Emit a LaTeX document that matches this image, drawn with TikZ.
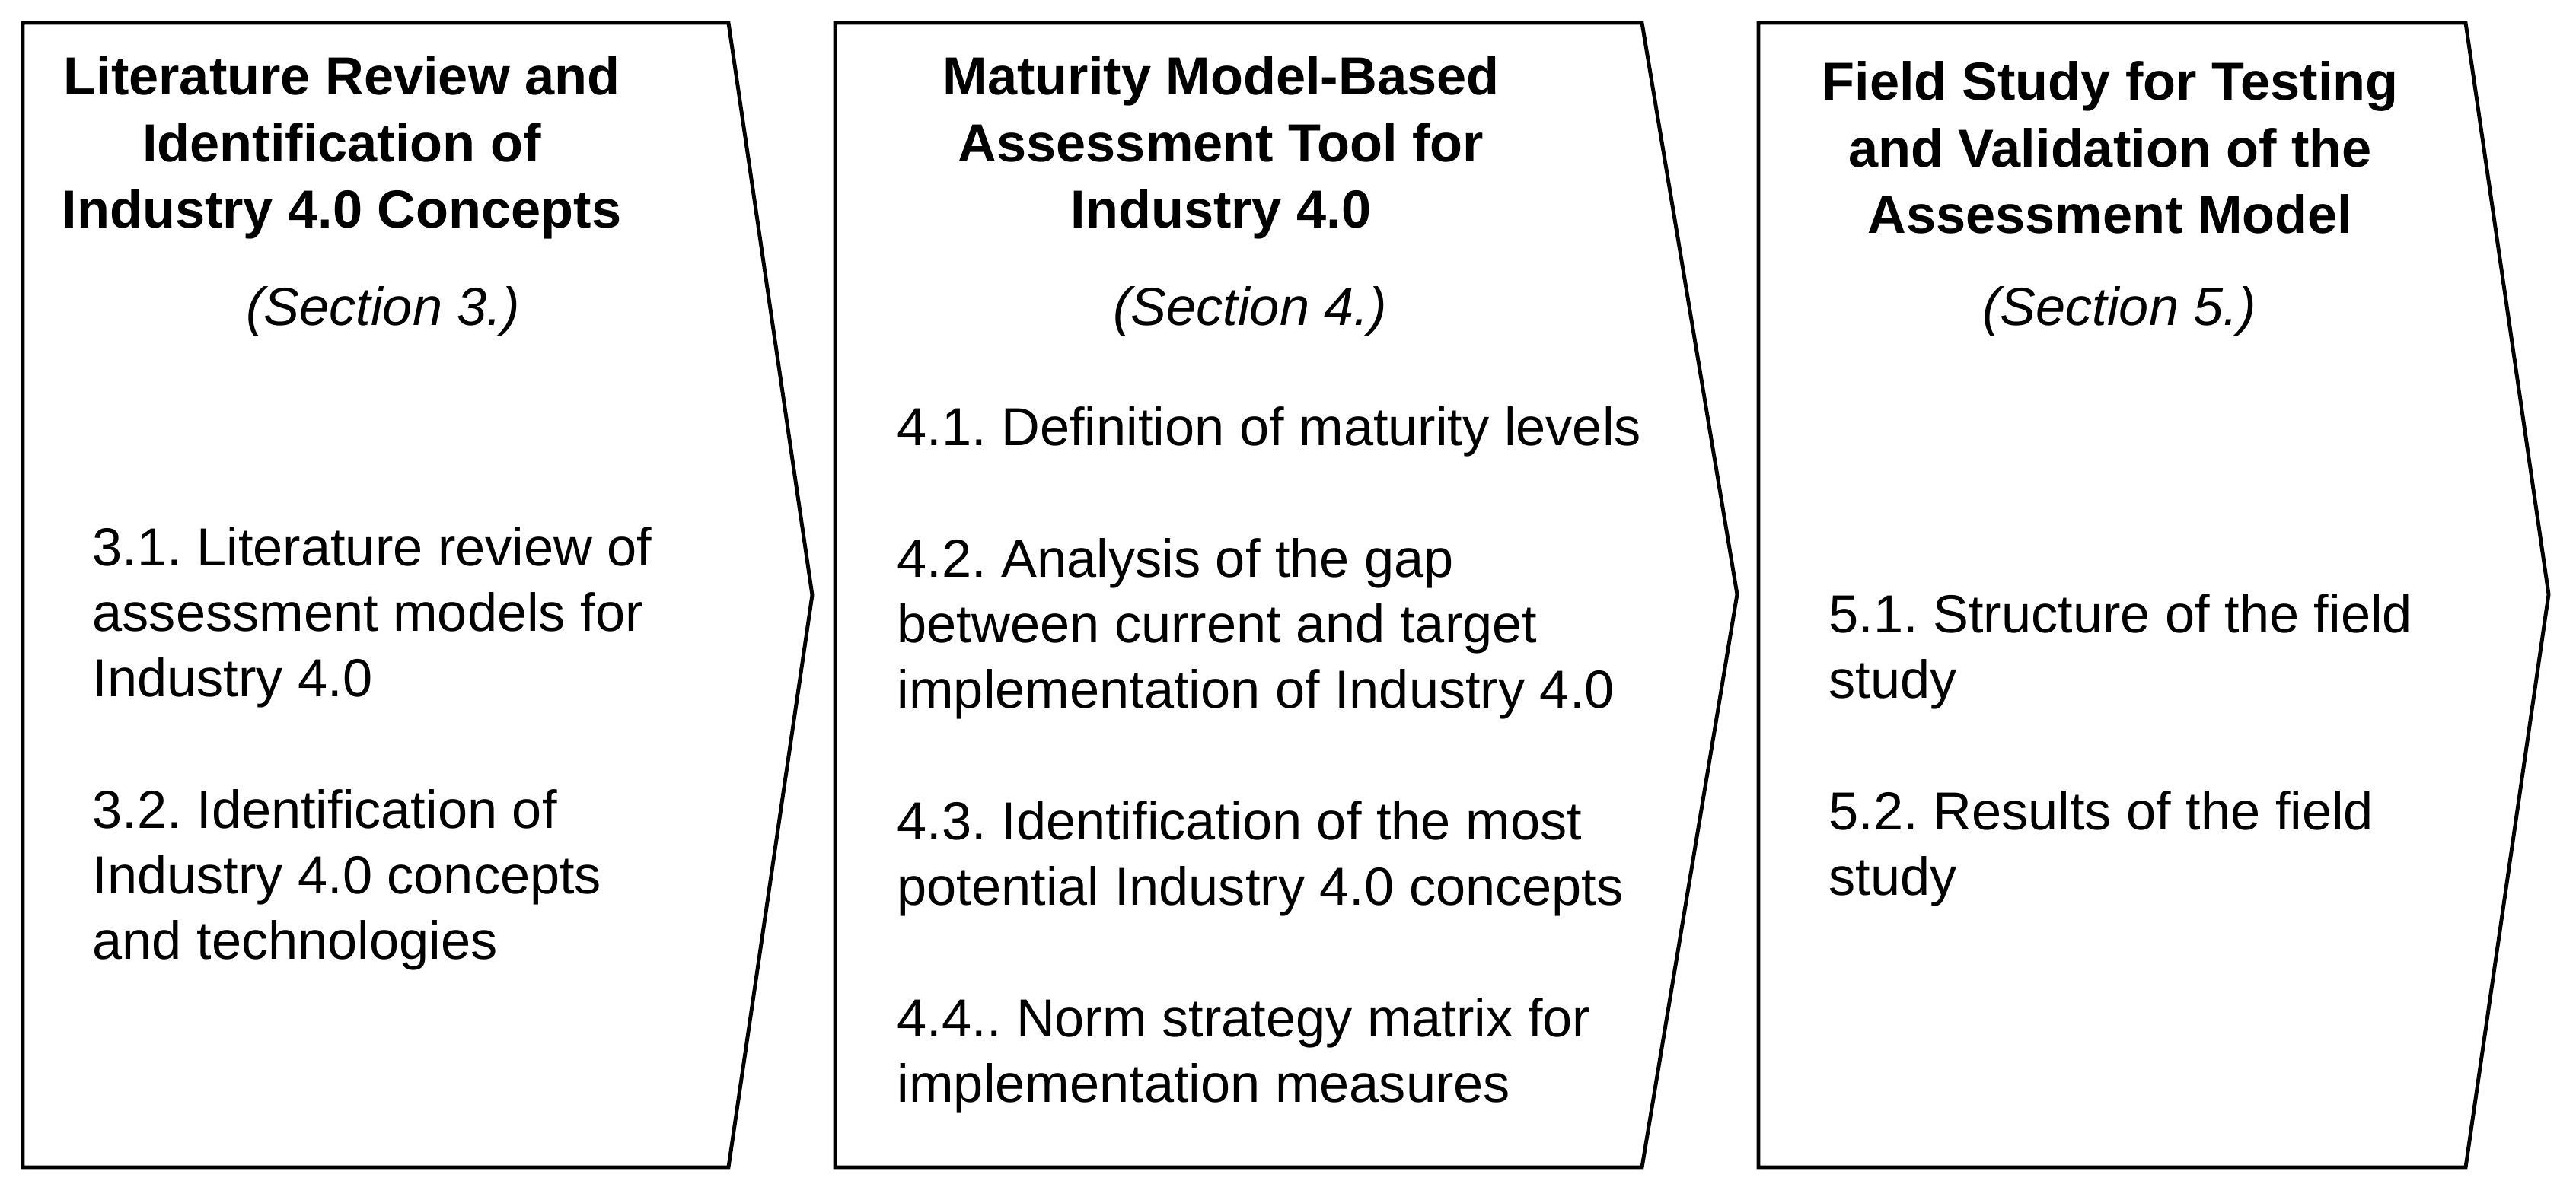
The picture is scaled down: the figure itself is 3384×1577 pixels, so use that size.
\documentclass[tikz,border=0pt]{standalone}
\usepackage{fontspec}
\setmainfont{Liberation Sans}
\frenchspacing
\begin{document}
\begin{tikzpicture}[x=0.01cm,y=-0.01cm,
  panel/.style={draw=black,line width=1.4pt,line join=miter,fill=white},
  title/.style={font=\fontsize{20}{24.8}\selectfont\bfseries,align=center,inner sep=0pt},
  sect/.style={font=\fontsize{20}{24}\selectfont\itshape,inner sep=0pt},
  body/.style={font=\fontsize{20}{24.5}\selectfont,align=left,anchor=west,inner sep=0pt}]
\useasboundingbox (0,0) rectangle (3384,1577);
% panels
\draw[panel] (30,30) -- (957,30) -- (1067,782) -- (957,1534) -- (30,1534) -- cycle;
\draw[panel] (1097,30) -- (2157,30) -- (2282,781) -- (2157,1534) -- (1097,1534) -- cycle;
\draw[panel] (2310,30) -- (3239,30) -- (3348,781) -- (3239,1534) -- (2310,1534) -- cycle;
% titles
\node[title] (t1) at (449,194) {Literature Review and\\Identification of\\Industry 4.0 Concepts};
\node[sect] (s1) at (503,409) {(Section 3.)};
\node[title] (t2) at (1604,194) {Maturity Model-Based\\Assessment Tool for\\Industry 4.0};
\node[sect] (s2) at (1642,409) {(Section 4.)};
\node[title] (t3) at (2772,194) {Field Study for Testing\\and Validation of the\\Assessment Model};
\node[sect] (s3) at (2784,409) {(Section 5.)};
% box 1 body
\node[body] (b31) at (121,811) {3.1. Literature review of\\assessment models for\\Industry 4.0};
\node[body] (b32) at (121,1156) {3.2. Identification of\\Industry 4.0 concepts\\and technologies};
% box 2 body
\node[body] (b41) at (1178,567) {4.1. Definition of maturity levels};
\node[body] (b42) at (1178,826) {4.2. Analysis of the gap\\between current and target\\implementation of Industry 4.0};
\node[body] (b43) at (1178,1128) {4.3. Identification of the most\\potential Industry 4.0 concepts};
\node[body] (b44) at (1178,1387) {4.4.. Norm strategy matrix for\\implementation measures};
% box 3 body
\node[body] (b51) at (2402,856) {5.1. Structure of the field\\study};
\node[body] (b52) at (2402,1115) {5.2. Results of the field\\study};
\end{tikzpicture}
\end{document}
